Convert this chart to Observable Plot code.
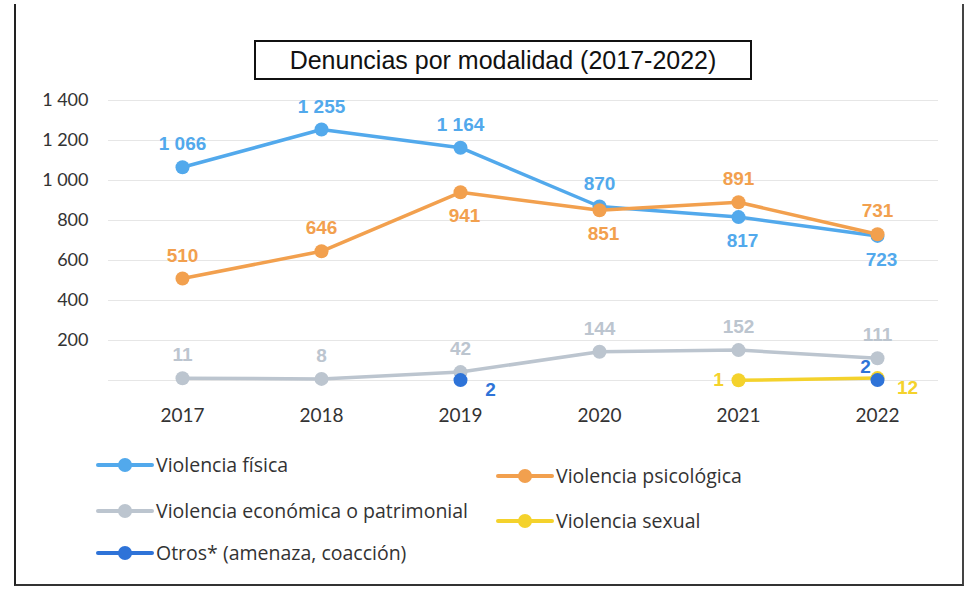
<!DOCTYPE html>
<html>
<head>
<meta charset="utf-8">
<script src="https://cdn.jsdelivr.net/npm/d3@7"></script>
<script src="https://cdn.jsdelivr.net/npm/@observablehq/plot@0.6"></script>
<style>
  html, body { margin: 0; padding: 0; background: #fff; }
  #wrap { position: relative; width: 968px; height: 601px; overflow: hidden; background: #fff; }
  #frame { position: absolute; left: 14px; top: 4px; width: 946px; height: 580px;
           border-left: 2px solid #222; border-right: 2px solid #444; border-bottom: 2px solid #333; }
  #title { position: absolute; left: 254px; top: 40px; width: 494px; height: 36px;
           border: 2px solid #111; font-family: "Liberation Sans", Arial, sans-serif; font-size: 25px;
           line-height: 36px; text-align: center; color: #111; background: #fff; }
  #chart { position: absolute; left: 0; top: 0; }
  .leg { position: absolute; font-family: "Open Sans", Lato, sans-serif; font-size: 19.5px; color: #333;
         display: flex; align-items: center; white-space: nowrap; }
  .sw { position: relative; width: 58px; height: 14px; margin-right: 2px; }
  .sw .ln { position: absolute; left: 0; right: 0; top: 5px; height: 4px; border-radius: 2px; }
  .sw .dt { position: absolute; left: 22px; top: 0; width: 14px; height: 14px; border-radius: 50%; }
</style>
</head>
<body>
<div id="wrap">
  <div id="frame"></div>
  <div id="chart"></div>
  <div id="title">Denuncias por modalidad (2017-2022)</div>
  <div id="legend"></div>
</div>
<script>
const years = [2017, 2018, 2019, 2020, 2021, 2022];
const seriesNames = [
  "Violencia física",
  "Violencia psicológica",
  "Violencia económica o patrimonial",
  "Violencia sexual",
  "Otros* (amenaza, coacción)"
];
const seriesColors = ["#52a9ec", "#f2a04e", "#bcc5cf", "#f4d22c", "#2e73d8"];
const fisica     = [1066, 1255, 1164, 870, 817, 723];
const psicologica = [510, 646, 941, 851, 891, 731];
const economica  = [11, 8, 42, 144, 152, 111];
const sexual     = [null, null, null, null, 1, 12];
const otros      = [null, null, 2, null, null, 2];
const yTicks = [200, 400, 600, 800, 1000, 1200, 1400];

// label placement relative to each point
const fisicaPos  = ["above", "above", "above", "above", "below", "below"];
const psicoPos   = ["above", "above", "below", "below", "above", "above"];
const econPos    = ["above", "above", "above", "above", "above", "above"];
const sexualPos  = [null, null, null, null, "left", "rightBelow"];
const otrosPos   = [null, null, "rightBelow", null, null, "leftAbove"];

const allValues = [fisica, psicologica, economica, sexual, otros];
const allPos = [fisicaPos, psicoPos, econPos, sexualPos, otrosPos];

const rows = [];
allValues.forEach((vals, s) => {
  vals.forEach((v, i) => {
    rows.push({series: seriesNames[s], year: String(years[i]), value: v, pos: allPos[s][i]});
  });
});
const pts = rows.filter(d => d.value != null);

const fmt = d => d3.format(",")(d).replace(/,/g, " ");
const color = {domain: seriesNames, range: seriesColors};

const textOpts = (pos, dx, dy) => Plot.text(pts.filter(d => d.pos === pos), {
  x: "year", y: "value", text: d => fmt(d.value), fill: "series",
  dx, dy, fontSize: 19, fontWeight: "bold", fontFamily: "Liberation Sans, Arial, sans-serif"
});

const chart = Plot.plot({
  width: 968,
  height: 440,
  marginLeft: 108,
  marginRight: 30,
  marginTop: 100,
  marginBottom: 60,
  style: {fontFamily: "Lato, 'Open Sans', sans-serif", background: "transparent"},
  x: {type: "point", domain: years.map(String), range: [180, 878], padding: 0, label: null},
  y: {domain: [0, 1400], range: [380, 100], label: null},
  color,
  marks: [
    Plot.gridY([0, ...yTicks], {stroke: "#e6e6e6", strokeOpacity: 1, strokeWidth: 1.2}),
    Plot.axisY(yTicks, {tickSize: 0, tickPadding: 20, tickFormat: fmt, fontSize: 18, fill: "#333", label: null}),
    Plot.axisX({tickSize: 0, tickPadding: 28, fontSize: 19, fill: "#333", label: null}),
    Plot.line(rows, {x: "year", y: "value", z: "series", stroke: "series", strokeWidth: 3.5}),
    Plot.dot(pts, {x: "year", y: "value", fill: "series", r: 7}),
    textOpts("above", 0, -23),
    textOpts("below", 4, 24),
    textOpts("left", -20, 0),
    textOpts("rightBelow", 30, 10),
    textOpts("leftAbove", -12, -13)
  ]
});
document.getElementById("chart").appendChild(chart);

// legend
const legendPos = [[96, 451], [496, 462], [96, 497], [496, 507], [96, 539]];
const legend = document.getElementById("legend");
seriesNames.forEach((name, i) => {
  const el = document.createElement("div");
  el.className = "leg";
  el.style.left = legendPos[i][0] + "px";
  el.style.top = legendPos[i][1] + "px";
  el.innerHTML = `<span class="sw"><span class="ln" style="background:${seriesColors[i]}"></span><span class="dt" style="background:${seriesColors[i]}"></span></span>${name}`;
  legend.appendChild(el);
});
</script>
</body>
</html>
